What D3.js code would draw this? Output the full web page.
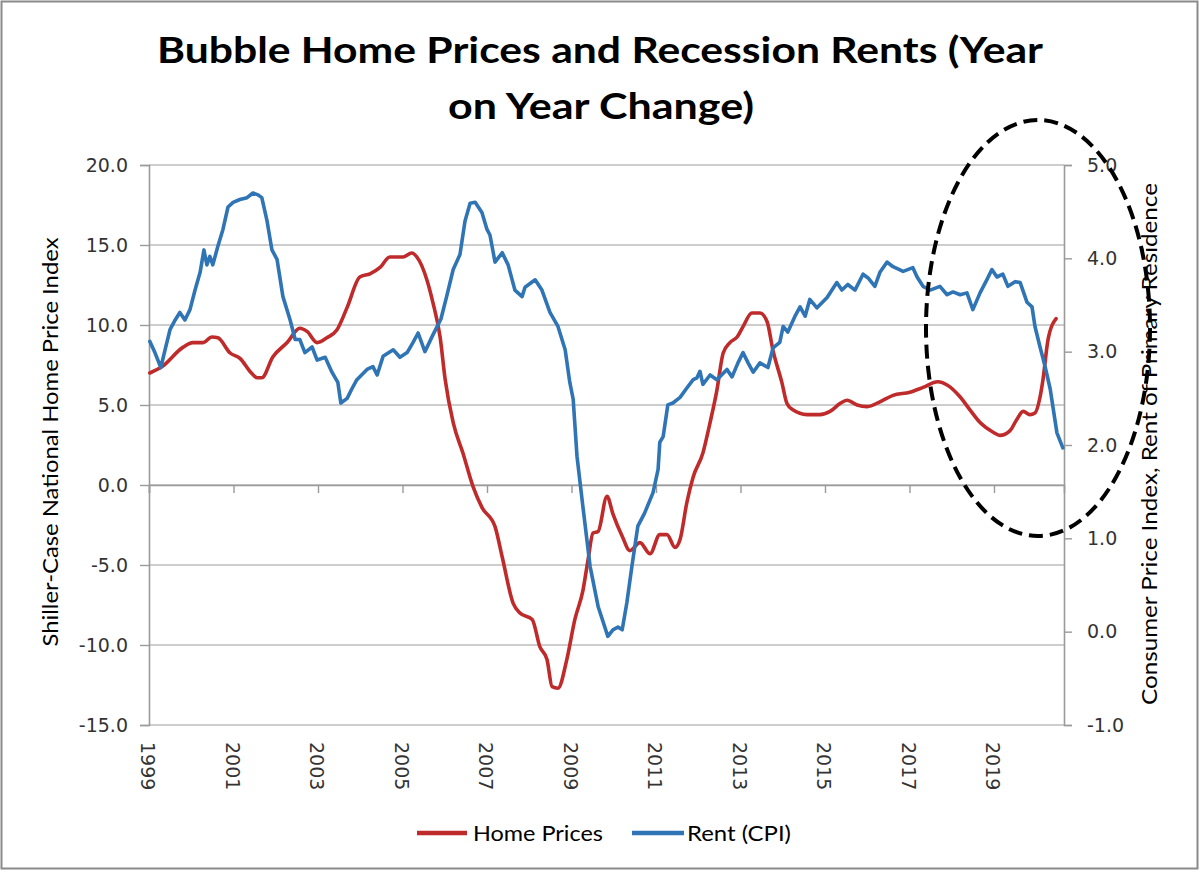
<!DOCTYPE html>
<html>
<head>
<meta charset="utf-8">
<script src="https://cdn.jsdelivr.net/npm/d3@7"></script>
<style>
  html, body { margin: 0; padding: 0; background: #fff; }
  svg { display: block; }
</style>
</head>
<body>
<svg id="chart" width="1200" height="872"></svg>
<script>
// ---------------- DATA ----------------
const titleLines = ["Bubble Home Prices and Recession Rents (Year", "on Year Change)"];
const leftAxisTitle = "Shiller-Case National Home Price Index";
const rightAxisTitle = "Consumer Price Index, Rent of Primary Residence";
const seriesNames = ["Home Prices", "Rent (CPI)"];

const leftTicks = [20, 15, 10, 5, 0, -5, -10, -15];
const rightTicks = [5, 4, 3, 2, 1, 0, -1];
const xTickYears = [1999, 2001, 2003, 2005, 2007, 2009, 2011, 2013, 2015, 2017, 2019];

// Home prices (Shiller-Case national, YoY %) – left axis
const homeYears = [
  1999.02, 1999.31, 1999.80, 2000.04, 2000.28, 2000.49, 2000.63, 2000.92, 2001.16, 2001.39,
  2001.56, 2001.67, 2001.93, 2002.27, 2002.57, 2002.74, 2002.98, 2003.21, 2003.45, 2003.69,
  2003.99, 2004.23, 2004.47, 2004.70, 2005.01, 2005.22, 2005.34, 2005.58, 2005.72, 2005.89,
  2006.01, 2006.20, 2006.43, 2006.67, 2006.88, 2007.19, 2007.36, 2007.62, 2007.78, 2008.07,
  2008.25, 2008.42, 2008.54, 2008.68, 2008.89, 2009.08, 2009.27, 2009.39, 2009.51, 2009.63,
  2009.84, 2009.98, 2010.20, 2010.38, 2010.62, 2010.86, 2011.09, 2011.26, 2011.45, 2011.57,
  2011.73, 2011.88, 2012.11, 2012.28, 2012.44, 2012.59, 2012.75, 2012.92, 2013.06, 2013.27,
  2013.46, 2013.63, 2013.77, 2013.98, 2014.10, 2014.24, 2014.57, 2014.88, 2015.12, 2015.36,
  2015.52, 2015.76, 2016.00, 2016.30, 2016.61, 2017.01, 2017.32, 2017.67, 2017.89, 2018.20,
  2018.43, 2018.67, 2018.98, 2019.14, 2019.38, 2019.54, 2019.69, 2019.85, 2019.97, 2020.09,
  2020.16, 2020.28, 2020.47
];
const homeValues = [
  7.0, 7.4, 8.6, 8.9, 8.9, 9.25, 9.2, 8.25, 7.9, 7.1,
  6.7, 6.7, 8.0, 8.9, 9.8, 9.6, 8.9, 9.2, 9.7, 11.1,
  13.0, 13.2, 13.6, 14.25, 14.25, 14.5, 14.25, 12.8, 11.4, 9.25,
  6.6, 3.9, 2.0, -0.1, -1.4, -2.6, -4.5, -7.4, -8.0, -8.4,
  -10.1, -10.9, -12.6, -12.7, -10.9, -8.4, -6.6, -4.7, -3.0, -2.9,
  -0.7, -1.8, -3.2, -4.1, -3.6, -4.3, -3.1, -3.1, -3.9, -3.4,
  -1.1, 0.5, 2.0, 3.9, 5.9, 8.25, 8.9, 9.25, 9.9, 10.75,
  10.75, 10.2, 8.4, 6.4, 5.1, 4.7, 4.4, 4.4, 4.6, 5.1,
  5.3, 5.0, 4.9, 5.2, 5.6, 5.8, 6.1, 6.45, 6.25, 5.5,
  4.7, 3.9, 3.3, 3.1, 3.4, 4.1, 4.6, 4.4, 4.5, 5.5,
  6.6, 9.1, 10.4
];

// Rent of primary residence (CPI, YoY %) – right axis
const rentYears = [
  1999.02, 1999.14, 1999.28, 1999.38, 1999.50, 1999.62, 1999.73, 1999.85, 1999.97, 2000.09,
  2000.21, 2000.30, 2000.37, 2000.44, 2000.51, 2000.63, 2000.75, 2000.87, 2000.99, 2001.15,
  2001.32, 2001.46, 2001.58, 2001.67, 2001.79, 2001.91, 2002.03, 2002.17, 2002.34, 2002.46,
  2002.57, 2002.69, 2002.86, 2002.98, 2003.17, 2003.33, 2003.47, 2003.54, 2003.69, 2003.80,
  2003.92, 2004.16, 2004.30, 2004.40, 2004.54, 2004.78, 2004.94, 2005.11, 2005.25, 2005.37,
  2005.53, 2005.72, 2005.91, 2006.05, 2006.20, 2006.36, 2006.48, 2006.60, 2006.72, 2006.88,
  2007.00, 2007.07, 2007.19, 2007.36, 2007.50, 2007.66, 2007.83, 2007.90, 2008.14, 2008.30,
  2008.49, 2008.68, 2008.85, 2008.96, 2009.04, 2009.13, 2009.27, 2009.44, 2009.63, 2009.86,
  2009.98, 2010.10, 2010.20, 2010.31, 2010.43, 2010.57, 2010.73, 2010.93, 2011.05, 2011.09,
  2011.17, 2011.28, 2011.40, 2011.57, 2011.73, 2011.88, 2011.97, 2012.04, 2012.11, 2012.28,
  2012.44, 2012.68, 2012.80, 2012.94, 2013.06, 2013.18, 2013.30, 2013.46, 2013.65, 2013.77,
  2013.93, 2014.01, 2014.12, 2014.29, 2014.41, 2014.53, 2014.64, 2014.81, 2015.05, 2015.28,
  2015.40, 2015.54, 2015.71, 2015.90, 2016.02, 2016.18, 2016.30, 2016.47, 2016.61, 2016.85,
  2017.08, 2017.18, 2017.32, 2017.49, 2017.72, 2017.89, 2018.03, 2018.20, 2018.36, 2018.50,
  2018.67, 2018.83, 2018.95, 2019.07, 2019.21, 2019.33, 2019.50, 2019.62, 2019.78, 2019.90,
  2019.97, 2020.09, 2020.21, 2020.33, 2020.49, 2020.63
];
const rentValues = [
  3.11, 2.99, 2.83, 3.02, 3.24, 3.34, 3.42, 3.34, 3.45, 3.66,
  3.85, 4.09, 3.93, 4.02, 3.93, 4.13, 4.31, 4.55, 4.60, 4.63,
  4.65, 4.70, 4.68, 4.65, 4.41, 4.09, 3.99, 3.59, 3.34, 3.13,
  3.13, 2.99, 3.05, 2.91, 2.94, 2.78, 2.67, 2.45, 2.50, 2.60,
  2.70, 2.81, 2.84, 2.75, 2.95, 3.02, 2.94, 2.99, 3.10, 3.20,
  3.00, 3.18, 3.35, 3.60, 3.88, 4.04, 4.40, 4.59, 4.60, 4.49,
  4.31, 4.25, 3.96, 4.06, 3.93, 3.66, 3.59, 3.69, 3.77, 3.66,
  3.42, 3.27, 3.02, 2.67, 2.49, 1.88, 1.34, 0.70, 0.27, -0.05,
  0.02, 0.05, 0.02, 0.31, 0.70, 1.13, 1.27, 1.49, 1.74, 2.03,
  2.09, 2.43, 2.45, 2.51, 2.61, 2.70, 2.72, 2.79, 2.65, 2.75,
  2.70, 2.81, 2.73, 2.88, 2.99, 2.88, 2.78, 2.88, 2.83, 3.04,
  3.10, 3.27, 3.21, 3.38, 3.48, 3.38, 3.56, 3.47, 3.58, 3.74,
  3.66, 3.72, 3.66, 3.83, 3.79, 3.70, 3.85, 3.96, 3.91, 3.86,
  3.90, 3.80, 3.70, 3.66, 3.70, 3.61, 3.64, 3.61, 3.63, 3.45,
  3.63, 3.77, 3.88, 3.80, 3.83, 3.70, 3.75, 3.74, 3.53, 3.48,
  3.27, 3.05, 2.84, 2.60, 2.13, 1.97
];

const colors = { home: "#BF2B2B", rent: "#2F74B5" };

// ---------------- CHART ----------------
const svg = d3.select("#chart");
const plot = { left: 149, right: 1064, top: 165, bottom: 725 };

const x = d3.scaleLinear().domain([1999, 2020.657]).range([plot.left, plot.right]);
const yL = d3.scaleLinear().domain([-15, 20]).range([plot.bottom, plot.top]);
const yR = d3.scaleLinear().domain([-1, 5]).range([plot.bottom, plot.top]);

// tick format with plain hyphen-minus, one decimal
const fmt1 = d => d.toFixed(1);

// outer border
svg.append("rect")
  .attr("x", 1.5).attr("y", 1.5).attr("width", 1196).attr("height", 867)
  .attr("fill", "#fff").attr("stroke", "#8a8a8a").attr("stroke-width", 2);

// title
const titleFont = "Lato, 'Noto Sans', sans-serif";
svg.append("text").text(titleLines[0])
  .attr("x", 600).attr("y", 63).attr("text-anchor", "middle")
  .attr("font-family", titleFont).attr("font-weight", "bold").attr("font-size", 36)
  .attr("textLength", 886).attr("lengthAdjust", "spacingAndGlyphs").attr("fill", "#000");
svg.append("text").text(titleLines[1])
  .attr("x", 601).attr("y", 119).attr("text-anchor", "middle")
  .attr("font-family", titleFont).attr("font-weight", "bold").attr("font-size", 36)
  .attr("textLength", 306).attr("lengthAdjust", "spacingAndGlyphs").attr("fill", "#000");

// gridlines (left axis)
svg.append("g").selectAll("line").data(leftTicks).join("line")
  .attr("x1", plot.left).attr("x2", plot.right)
  .attr("y1", d => yL(d)).attr("y2", d => yL(d))
  .attr("stroke", "#bdbdbd").attr("stroke-width", 1.6);

// left axis
const leftAxis = d3.axisLeft(yL).tickValues(leftTicks).tickFormat(fmt1)
  .tickSize(9).tickPadding(12);
const gL = svg.append("g").attr("transform", `translate(${plot.left},0)`).call(leftAxis);
gL.select(".domain").attr("stroke", "#9a9a9a").attr("stroke-width", 1.6);
gL.selectAll(".tick line").attr("stroke", "#9a9a9a").attr("stroke-width", 1.4);
gL.selectAll(".tick text").attr("font-family", "'DejaVu Sans', Verdana, sans-serif")
  .attr("font-size", 19).attr("fill", "#333");

// right axis
const rightAxis = d3.axisRight(yR).tickValues(rightTicks).tickFormat(fmt1)
  .tickSize(8).tickPadding(15);
const gR = svg.append("g").attr("transform", `translate(${plot.right},0)`).call(rightAxis);
gR.select(".domain").attr("stroke", "#9a9a9a").attr("stroke-width", 1.6);
gR.selectAll(".tick line").attr("stroke", "#9a9a9a").attr("stroke-width", 1.4);
gR.selectAll(".tick text").attr("font-family", "'DejaVu Sans', Verdana, sans-serif")
  .attr("font-size", 19).attr("fill", "#333");

// x axis: line at zero with tick marks going down, labels at bottom
const gX = svg.append("g").attr("transform", `translate(0,${yL(0)})`)
  .call(d3.axisBottom(x).tickValues(xTickYears).tickSize(8).tickFormat(""));
gX.select(".domain").attr("stroke", "#9a9a9a").attr("stroke-width", 1.6);
gX.selectAll(".tick line").attr("stroke", "#9a9a9a").attr("stroke-width", 1.4);

svg.append("g").selectAll("text").data(xTickYears).join("text")
  .attr("transform", d => `translate(${x(d) - 1},742) rotate(90)`)
  .attr("text-anchor", "start").attr("dy", "0.35em")
  .attr("font-family", "'DejaVu Sans', Verdana, sans-serif").attr("font-size", 19)
  .attr("fill", "#333").text(d => d);

// axis titles
svg.append("text").text(leftAxisTitle)
  .attr("transform", `translate(58,442) rotate(-90)`).attr("text-anchor", "middle")
  .attr("font-family", titleFont).attr("font-size", 21).attr("fill", "#000")
  .attr("textLength", 409).attr("lengthAdjust", "spacingAndGlyphs");
svg.append("text").text(rightAxisTitle)
  .attr("transform", `translate(1157,444) rotate(-90)`).attr("text-anchor", "middle")
  .attr("font-family", titleFont).attr("font-size", 21).attr("fill", "#000")
  .attr("textLength", 522).attr("lengthAdjust", "spacingAndGlyphs");

// series
const homeData = homeYears.map((t, i) => ({ t, v: homeValues[i] }));
const rentData = rentYears.map((t, i) => ({ t, v: rentValues[i] }));

svg.append("path").datum(homeData)
  .attr("fill", "none").attr("stroke", colors.home).attr("stroke-width", 3.6)
  .attr("stroke-linejoin", "round").attr("stroke-linecap", "round")
  .attr("d", d3.line().x(d => x(d.t)).y(d => yL(d.v)).curve(d3.curveMonotoneX));

svg.append("path").datum(rentData)
  .attr("fill", "none").attr("stroke", colors.rent).attr("stroke-width", 3.6)
  .attr("stroke-linejoin", "round").attr("stroke-linecap", "round")
  .attr("d", d3.line().x(d => x(d.t)).y(d => yR(d.v)).curve(d3.curveLinear));

// legend
const legend = [
  { name: seriesNames[0], color: colors.home, x1: 417, x2: 467, tx: 473, tl: 130 },
  { name: seriesNames[1], color: colors.rent, x1: 632, x2: 684, tx: 687, tl: 104 }
];
const lg = svg.append("g");
legend.forEach(l => {
  lg.append("line").attr("x1", l.x1).attr("x2", l.x2).attr("y1", 833).attr("y2", 833)
    .attr("stroke", l.color).attr("stroke-width", 4.5);
  lg.append("text").text(l.name).attr("x", l.tx).attr("y", 841)
    .attr("font-family", titleFont).attr("font-size", 21).attr("fill", "#000")
    .attr("textLength", l.tl).attr("lengthAdjust", "spacingAndGlyphs");
});

// dashed ellipse annotation
svg.append("ellipse")
  .attr("cx", 1038).attr("cy", 328).attr("rx", 112).attr("ry", 208)
  .attr("fill", "none").attr("stroke", "#000").attr("stroke-width", 4)
  .attr("stroke-dasharray", "14,7");
</script>
</body>
</html>
